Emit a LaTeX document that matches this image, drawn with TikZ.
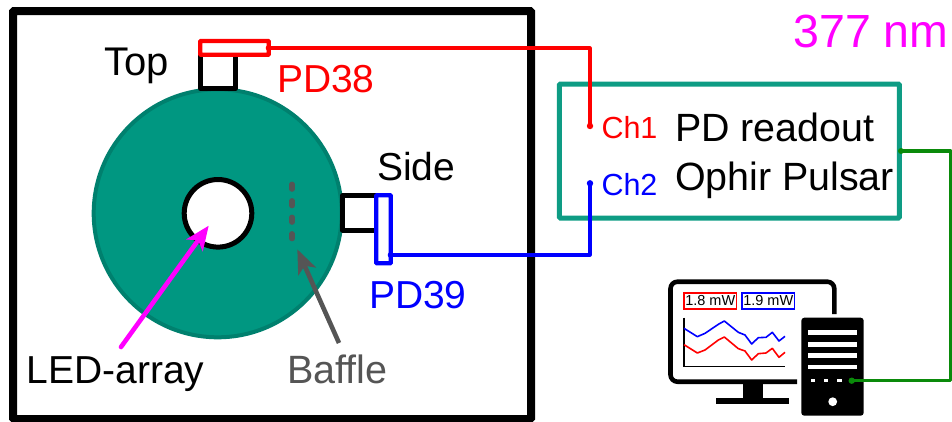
\documentclass[tikz,border=0pt]{standalone}
\usepackage{fontspec}
\setmainfont{Liberation Sans}
\usetikzlibrary{arrows.meta}
\definecolor{tealfill}{HTML}{009781}
\definecolor{tealedge}{HTML}{00806E}
\definecolor{boxteal}{HTML}{0E9C84}
\definecolor{greyarrow}{HTML}{555555}
\definecolor{wiregreen}{HTML}{0A8A0A}
\definecolor{mag}{HTML}{FF00FF}
\definecolor{pdblue}{HTML}{0000FF}
\tikzset{
  x=1pt,y=-1pt,
  every node/.append style={outer sep=0pt,inner sep=0pt},
  lab/.style={anchor=base west,font=\fontsize{#1}{#1}\selectfont},
  wire/.style={line width=3.2pt,line join=round},
  pt/.style={circle,fill,minimum size=#1},
  housing/.style={draw=black,line width=5pt,fill=white,line join=round,anchor=north west},
  sensor/.style={line width=4.2pt,fill=white,rounded corners=0.5pt,anchor=north west},
  stripe/.style={fill=white,draw=none},
  reading/.style={line width=1.6pt,line join=round},
  readbox/.style={draw,line width=1.7pt,fill=white,minimum width=52.5pt,minimum height=16pt,text=black,font=\fontsize{14.5}{14.5}\selectfont,anchor=north west}
}
\begin{document}
\begin{tikzpicture}
\useasboundingbox (0,0) rectangle (952,421);
% enclosure
\node[draw=black,line width=8pt,rounded corners=1pt,minimum width=518pt,minimum height=408pt,anchor=north west] (frame) at (13,11) {};
% sphere
\node[circle,fill=tealfill,draw=tealedge,line width=4pt,minimum size=248pt] (sphere) at (217.7,213.3) {};
\node[circle,fill=white,draw=black,line width=5pt,minimum size=67.6pt] (port) at (218,213.3) {};
% housings
\node[housing,minimum width=34.8pt,minimum height=34pt] (tophouse) at (200.5,54.5) {};
\node[housing,minimum width=36pt,minimum height=34.3pt] (sidehouse) at (342.5,195.7) {};
% baffle
\coordinate (b1) at (292,184.2);
\coordinate (b2) at (292,239);
\draw[greyarrow,line width=5.2pt,line cap=round,dash pattern=on 5pt off 11.5pt] (b1) -- (b2);
% sensors
\node[sensor,draw=red,minimum width=68.4pt,minimum height=13.7pt] (pd38) at (200.3,41) {};
\node[sensor,draw=pdblue,minimum width=14.4pt,minimum height=68pt] (pd39) at (376.3,195.3) {};
% readout
\node[draw=boxteal,line width=5pt,rounded corners=1pt,minimum width=340pt,minimum height=134pt,anchor=north west] (readout) at (559.3,84) {};
\node[pt=6.4pt,red] (ch1) at (590,126) {};
\node[pt=6.4pt,pdblue] (ch2) at (590,183.3) {};
\coordinate (redout) at (pd38.east |- 0,48);
\coordinate (blueout) at (pd39.east |- 0,255);
\draw[wire,red] (redout) -- (590,48) -- (ch1.center);
\draw[wire,pdblue] (blueout) -- (590,255) -- (ch2.center);
\node[pt=6pt,red] at (redout) {};
\node[pt=6pt,pdblue] at (blueout) {};
% computer
\draw[line width=4.6pt,rounded corners=7pt,line join=round] (834.3,314) -- (834.3,281.7) -- (670.5,281.7) -- (670.5,381.7) -- (797,381.7);
\fill (743,383) rectangle (762.5,398);
\fill (716,398) rectangle (789,403.5);
\node[fill=black,rounded corners=3pt,minimum width=62.4pt,minimum height=98pt,anchor=north west] (tower) at (801.3,317.7) {};
\foreach \ya/\yb in {330/335,341.7/346.7,353/357.8,364.7/369.2}{\fill[stripe] (808.3,\ya) rectangle (856.7,\yb);}
\foreach \xa in {810.8,824,837.4}{\fill[stripe] (\xa,379.4) rectangle (\xa+4.2,382);}
\node[circle,fill=white,minimum size=8.8pt] (button) at (832.7,401.7) {};
\node[pt=6.4pt,wiregreen] (towerport) at (851.7,380.7) {};
\node[pt=6pt,wiregreen] (readoutport) at (901,151) {};
\draw[wire,wiregreen] (towerport.center) -- (950.8,380.7) -- (950.8,151) -- (readoutport.center);
% screen
\node[readbox,draw=red] (r1) at (684,293) {1.8 mW};
\node[readbox,draw=pdblue] (r2) at (742,293) {1.9 mW};
\draw[line width=1.2pt] (684,317.5) -- (684,366.3) -- (785,366.3);
\begin{scope}[shift={(660,270)},x=0.3333pt,y=-0.3333pt]
\draw[reading,pdblue] (72,175)--(112,200)--(135,190)--(175,163)--(193,153)--(235,187)--(255,195)--(275,222)--(295,203)--(318,202)--(337,187)--(357,213)--(375,199);
\draw[reading,red] (72,224)--(112,249)--(135,240)--(175,210)--(193,201)--(235,236)--(255,243)--(275,270)--(295,251)--(318,249)--(337,235)--(357,262)--(375,247);
\end{scope}
% arrows
\coordinate (magtail) at (121,347);
\coordinate (magtip) at (208.7,225.7);
\coordinate (greytail) at (339,343);
\coordinate (greytip) at (297.3,249.3);
\draw[mag,line width=4.6pt,line cap=round,-{Stealth[length=24pt,width=20pt,inset=6pt]}] (magtail) -- (magtip);
\draw[greyarrow,line width=4.6pt,-{Stealth[length=24pt,width=19pt,inset=6pt]}] (greytail) -- (greytip);
% labels
\node[lab=40] (top) at (104,75) {Top};
\node[lab=39] (side) at (377,180) {Side};
\node[lab=39,red] (pd38t) at (277,92) {PD38};
\node[lab=39,pdblue] (pd39t) at (369,308) {PD39};
\node[lab=39] (led) at (26.5,383) {LED-array};
\node[lab=39.5,greyarrow] (baf) at (287,383) {Baffle};
\node[lab=46.5,mag] (nm) at (793.5,47.3) {377 nm};
\node[lab=39.4] (ro1) at (675,141) {PD readout};
\node[lab=39.4] (ro2) at (675,190) {Ophir Pulsar};
\node[lab=30.5,red] (c1) at (601.5,138) {Ch1};
\node[lab=30.5,pdblue] (c2) at (601.5,195) {Ch2};
\end{tikzpicture}
\end{document}
